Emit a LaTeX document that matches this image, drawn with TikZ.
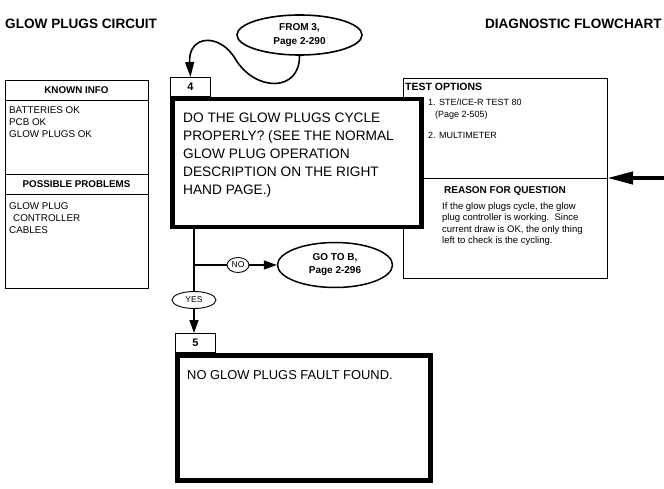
\documentclass[tikz,border=0pt]{standalone}
\usepackage{fontspec}
\setmainfont{Liberation Sans}
\usetikzlibrary{positioning, arrows.meta, shapes.geometric}
\newcommand{\setfs}[2]{\fontsize{#1}{#2}\selectfont}

\begin{document}
\begin{tikzpicture}[x=1pt, y=-1pt,
    title/.style={inner sep=0pt, font=\setfs{13.6}{16}\bfseries},
    panel/.style={rectangle, draw=black, line width=0.9pt, fill=white, minimum width=143pt, inner sep=0pt, outer sep=0pt, anchor=north west},
    head/.style={panel, minimum height=20pt, font=\setfs{9.8}{12}\bfseries},
    item/.style={anchor=north west, inner sep=0pt, align=left, font=\setfs{9.8}{12}},
    qbox/.style={rectangle, draw=black, line width=4.5pt, fill=white, inner sep=0pt, anchor=north west},
    numbox/.style={rectangle, draw=black, line width=1pt, fill=white, minimum width=40pt, minimum height=19pt, inner sep=0pt, anchor=south west, font=\setfs{11}{13}\bfseries},
    bubble/.style={ellipse, draw=black, line width=1.6pt, inner sep=0pt, align=center, font=\setfs{10}{14}\bfseries},
    tag/.style={ellipse, draw=black, line width=0.9pt, inner sep=0pt, font=\setfs{8.5}{10}},
    flow/.style={line width=1.5pt},
    arrow/.style={flow, -{Triangle[length=13pt, width=9pt]}},
    bigarrow/.style={line width=4pt, -{Triangle[length=26pt, width=12pt]}},
]
\useasboundingbox (0,0) rectangle (664,489);

% ========== TITLES ==========
\node[title, anchor=base west] (ttl) at (5,29) {GLOW PLUGS CIRCUIT};
\node[title, anchor=base east] (ttr) at (662,29) {DIAGNOSTIC FLOWCHART};

% ========== KNOWN INFO / POSSIBLE PROBLEMS ==========
\node[head] (known) at (5,80) {KNOWN INFO};
\node[panel, minimum height=74pt, below=0pt of known] (knownbody) {};
\node[head, below=0pt of knownbody] (probs) {POSSIBLE PROBLEMS};
\node[panel, minimum height=94pt, below=0pt of probs] (probsbody) {};

\node[item] (knowntxt) at ([shift={(4,6)}]knownbody.north west) {BATTERIES OK\\PCB OK\\GLOW PLUGS OK};
\node[item] (probstxt) at ([shift={(4,8)}]probsbody.north west) {GLOW PLUG\\\hspace{4pt}CONTROLLER\\CABLES};

% ========== TEST OPTIONS / REASON ==========
\node[panel, minimum width=204pt, minimum height=100pt] (topt) at (403,78) {};
\node[panel, minimum width=204pt, minimum height=100pt, below=0pt of topt] (reason) {};

\node[anchor=north west, inner sep=0pt, font=\setfs{10.5}{12}\bfseries] (topttl) at ([shift={(2,5)}]topt.north west) {TEST OPTIONS};
\node[item, font=\setfs{9}{12}] (topttxt) at ([shift={(25,21)}]topt.north west) {1. STE/ICE-R TEST 80\\\hspace{7pt}(Page 2-505)\\[9pt]2. MULTIMETER};

\node[below=8pt of reason.north, inner sep=0pt, font=\setfs{10}{12}\bfseries] (reasonttl) {REASON FOR QUESTION};
\node[item, font=\setfs{9.5}{11.6}] (reasontxt) at ([shift={(39,24)}]reason.north west) {If the glow plugs cycle, the glow\\plug controller is working.\ \ Since\\current draw is OK, the only thing\\left to check is the cycling.};

% ========== QUESTION 4 ==========
\node[qbox, minimum width=249pt, minimum height=128pt] (q4) at (170,97) {};
\node[numbox] (lbl4) at (q4.north west) {4};
\node[item, font=\setfs{13.7}{18}] (q4txt) at ([shift={(13,16)}]q4.north west) {DO THE GLOW PLUGS CYCLE\\PROPERLY? (SEE THE NORMAL\\GLOW PLUG OPERATION\\DESCRIPTION ON THE RIGHT\\HAND PAGE.)};

% ========== FROM 3 ==========
\node[bubble, minimum width=125pt, minimum height=40pt] (from3) at (299.5,35) {FROM 3,\\Page 2-290};
\coordinate (loop) at (236,60);
\draw[flow, line width=1.6pt, -{Triangle[length=15pt, width=9pt]}] (from3.south) .. controls (300,92) and (256,92) .. (loop) .. controls (220,32) and (188,35) .. (lbl4.north);

% ========== DECISION ==========
\coordinate (br) at (194,265);
\node[tag, minimum width=22pt, minimum height=15pt] (no) at (238,265) {NO};
\node[bubble, line width=1.5pt, minimum width=115pt, minimum height=45pt, font=\setfs{10}{13}\bfseries] (gotob) at (335,265) {GO TO B,\\Page 2-296};
\node[tag, minimum width=44pt, minimum height=17pt] (yes) at (194,300) {YES};

% ========== RESULT 5 ==========
\node[qbox, minimum width=253pt, minimum height=125pt] (q5) at (175,353) {};
\node[numbox] (lbl5) at (q5.north west) {5};
\node[item, font=\setfs{12.9}{16}] (q5txt) at ([shift={(12,17)}]q5.north west) {NO GLOW PLUGS FAULT FOUND.};

% ========== ARROWS ==========
\draw[flow] (q4.south -| br) -- (yes.north);
\draw[flow] (br) -- (no.west);
\draw[arrow] (no.east) -- (gotob.west);
\draw[arrow] (yes.south) -- (yes.south |- lbl5.north);

\coordinate (rin) at (664,178);
\draw[bigarrow] (rin) -- (topt.south east);

\end{tikzpicture}
\end{document}
